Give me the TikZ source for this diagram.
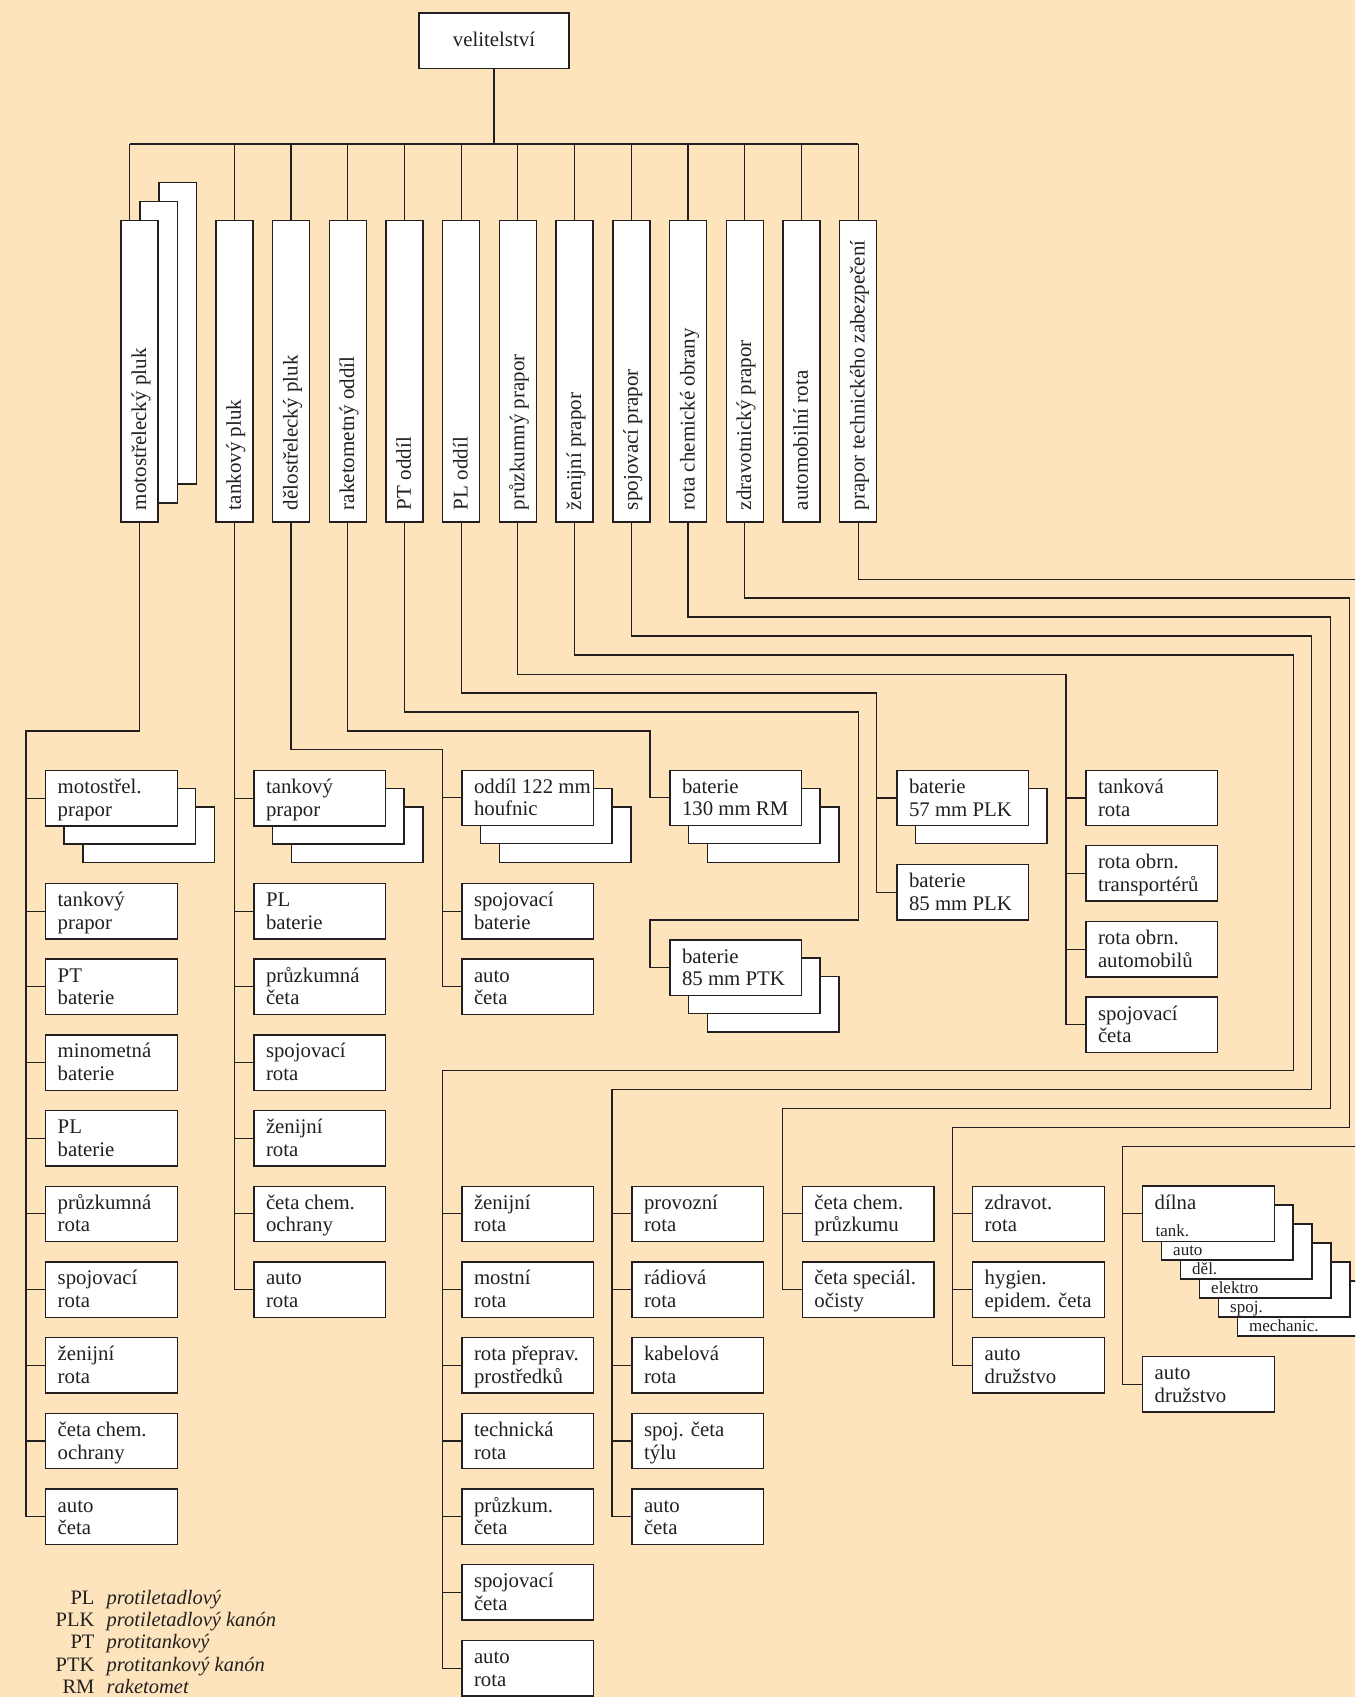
\documentclass[tikz,border=0pt]{standalone}
\usepackage{fontspec}
\setmainfont{Liberation Serif}
\definecolor{bg}{RGB}{253,228,189}
\definecolor{lc}{RGB}{35,31,32}
\newcommand{\hsz}{\fontsize{20.8}{22.7}\selectfont}
\newcommand{\vsz}{\fontsize{21}{23}\selectfont}
\newcommand{\ssz}{\fontsize{17}{19}\selectfont}
\newcommand{\lsz}{\fontsize{20.5}{22.3}\selectfont}
\newcommand{\tb}[2]{\makebox[107.5pt][l]{\begin{tabular}[t]{@{}l@{}}#1\\#2\end{tabular}}}
\newcommand{\vt}[1]{\makebox[277.3pt][l]{#1}}
\tikzset{
  conn/.style={draw=lc, line width=1.1pt},
  sh/.style={draw=lc, fill=white, line width=1.4pt},
  hb/.style={sh, rectangle, anchor=north west, inner xsep=12pt, inner ysep=0pt,
    minimum width=131.5pt, minimum height=55.4pt, text height=23pt, text depth=32.4pt,
    font=\hsz, text=lc},
  vb/.style={sh, rectangle, rotate=90, inner xsep=12pt, inner ysep=0pt,
    minimum width=301.3pt, minimum height=37pt, text height=16pt, text depth=3pt,
    font=\vsz, text=lc},
  lyr/.style={sh, rectangle, anchor=north west, inner sep=0pt, minimum width=131.3pt, minimum height=55pt},
  lab/.style={inner sep=0pt, anchor=base west, font=\ssz, text=lc},
}
\begin{document}
\begin{tikzpicture}[x=1pt,y=-1pt]
\useasboundingbox (0,0) rectangle (1355,1697);
\fill[bg] (0,0) rectangle (1355,1697);
\clip (0,0) rectangle (1355,1697);

% top
\node[sh, rectangle, minimum width=150pt, minimum height=55.3pt, inner sep=0pt,
  text height=12pt, text depth=0pt, font=\hsz, text=lc] (vel) at (494,40.7) {velitelství};

% vertical boxes
\draw[sh] (159,182.7) rectangle ++(37.2,301.3);
\draw[sh] (140,201.7) rectangle ++(37.2,301.3);
\node[vb] (v1) at (139.6,371.35) {\vt{motostřelecký pluk}};
\node[vb] (v2) at (234.3,371.35) {\vt{tankový pluk}};
\node[vb] (v3) at (291.0,371.35) {\vt{dělostřelecký pluk}};
\node[vb] (v4) at (347.7,371.35) {\vt{raketometný oddíl}};
\node[vb] (v5) at (404.4,371.35) {\vt{PT oddíl}};
\node[vb] (v6) at (461.1,371.35) {\vt{PL oddíl}};
\node[vb] (v7) at (517.9,371.35) {\vt{průzkumný prapor}};
\node[vb] (v8) at (574.6,371.35) {\vt{ženijní prapor}};
\node[vb] (v9) at (631.3,371.35) {\vt{spojovací prapor}};
\node[vb] (v10) at (688.0,371.35) {\vt{rota chemické obrany}};
\node[vb] (v11) at (744.7,371.35) {\vt{zdravotnický prapor}};
\node[vb] (v12) at (801.4,371.35) {\vt{automobilní rota}};
\node[vb] (v13) at (858.1,371.35) {\vt{prapor technického zabezpečení}};

% column A
\draw[sh] (83,807.1) rectangle ++(131.5,55.4);
\draw[sh] (64,788.4) rectangle ++(131.5,55.4);
\node[hb] (a1) at (45,769.7) {\tb{motostřel.}{prapor}};
\node[hb] (a2) at (45,882.7) {\tb{tankový}{prapor}};
\node[hb] (a3) at (45,958.4) {\tb{PT}{baterie}};
\node[hb] (a4) at (45,1034.1) {\tb{minometná}{baterie}};
\node[hb] (a5) at (45,1109.8) {\tb{PL}{baterie}};
\node[hb] (a6) at (45,1185.5) {\tb{průzkumná}{rota}};
\node[hb] (a7) at (45,1261.2) {\tb{spojovací}{rota}};
\node[hb] (a8) at (45,1336.9) {\tb{ženijní}{rota}};
\node[hb] (a9) at (45,1412.6) {\tb{četa chem.}{ochrany}};
\node[hb] (a10) at (45,1488.3) {\tb{auto}{četa}};

% column B
\draw[sh] (291.3,807.1) rectangle ++(131.5,55.4);
\draw[sh] (272.3,788.4) rectangle ++(131.5,55.4);
\node[hb] (b1) at (253.3,769.7) {\tb{tankový}{prapor}};
\node[hb] (b2) at (253.3,882.7) {\tb{PL}{baterie}};
\node[hb] (b3) at (253.3,958.4) {\tb{průzkumná}{četa}};
\node[hb] (b4) at (253.3,1034.1) {\tb{spojovací}{rota}};
\node[hb] (b5) at (253.3,1109.8) {\tb{ženijní}{rota}};
\node[hb] (b6) at (253.3,1185.5) {\tb{četa chem.}{ochrany}};
\node[hb] (b7) at (253.3,1261.2) {\tb{auto}{rota}};

% column C
\draw[sh] (499.3,806.9) rectangle ++(131.5,55.4);
\draw[sh] (480.3,788.2) rectangle ++(131.5,55.4);
\node[hb] (c1) at (461.3,769.5) {\tb{oddíl 122 mm}{houfnic}};
\node[hb] (c2) at (461.3,882.7) {\tb{spojovací}{baterie}};
\node[hb] (c3) at (461.3,958.4) {\tb{auto}{četa}};

% column D
\draw[sh] (707.3,806.9) rectangle ++(131.5,55.4);
\draw[sh] (688.3,788.2) rectangle ++(131.5,55.4);
\node[hb] (d1) at (669.3,769.5) {\tb{baterie}{130 mm RM}};
\draw[sh] (707.3,976.7) rectangle ++(131.5,55.4);
\draw[sh] (688.3,958.0) rectangle ++(131.5,55.4);
\node[hb] (d2) at (669.3,939.3) {\tb{baterie}{85 mm PTK}};

% column E
\draw[sh] (915.3,788.3) rectangle ++(131.5,55.4);
\node[hb] (e1) at (896.3,769.6) {\tb{baterie}{57 mm PLK}};
\node[hb] (e2) at (896.3,864.0) {\tb{baterie}{85 mm PLK}};

% column F
\node[hb] (f1) at (1085.3,769.6) {\tb{tanková}{rota}};
\node[hb] (f2) at (1085.3,845.0) {\tb{rota obrn.}{transportérů}};
\node[hb] (f3) at (1085.3,920.7) {\tb{rota obrn.}{automobilů}};
\node[hb] (f4) at (1085.3,996.4) {\tb{spojovací}{četa}};

% column G
\node[hb] (g1) at (461.3,1185.5) {\tb{ženijní}{rota}};
\node[hb] (g2) at (461.3,1261.2) {\tb{mostní}{rota}};
\node[hb] (g3) at (461.3,1336.9) {\tb{rota přeprav.}{prostředků}};
\node[hb] (g4) at (461.3,1412.6) {\tb{technická}{rota}};
\node[hb] (g5) at (461.3,1488.3) {\tb{průzkum.}{četa}};
\node[hb] (g6) at (461.3,1564.0) {\tb{spojovací}{četa}};
\node[hb] (g7) at (461.3,1639.7) {\tb{auto}{rota}};

% column H
\node[hb] (h1) at (631.3,1185.5) {\tb{provozní}{rota}};
\node[hb] (h2) at (631.3,1261.2) {\tb{rádiová}{rota}};
\node[hb] (h3) at (631.3,1336.9) {\tb{kabelová}{rota}};
\node[hb] (h4) at (631.3,1412.6) {\tb{spoj. četa}{týlu}};
\node[hb] (h5) at (631.3,1488.3) {\tb{auto}{četa}};

% column I
\node[hb] (i1) at (801.7,1185.5) {\tb{četa chem.}{průzkumu}};
\node[hb] (i2) at (801.7,1261.2) {\tb{četa speciál.}{očisty}};

% column K
\node[hb] (k1) at (972,1185.5) {\tb{zdravot.}{rota}};
\node[hb] (k2) at (972,1261.2) {\tb{hygien.}{epidem. četa}};
\node[hb] (k3) at (972,1336.9) {\tb{auto}{družstvo}};

% column L (workshop stack)
\node[lyr] (dl6) at (1237,1280.3) {};
\node[lab] (dl6t) at (1249,1331) {mechanic.};
\node[lyr] (dl5) at (1218,1261.3) {};
\node[lab] (dl5t) at (1230,1312) {spoj.};
\node[lyr] (dl4) at (1199,1242.3) {};
\node[lab] (dl4t) at (1211,1293) {elektro};
\node[lyr] (dl3) at (1180,1223.3) {};
\node[lab] (dl3t) at (1192,1274) {děl.};
\node[lyr] (dl2) at (1161,1204.3) {};
\node[lab] (dl2t) at (1173,1255) {auto};
\node[hb] (l1) at (1142,1185.3) {\tb{dílna}{}};
\node[lab] (l1t) at (1155.5,1236) {tank.};
\node[hb] (l2) at (1142,1355.7) {\tb{auto}{družstvo}};

% legend
\node[anchor=base west, inner sep=0pt, font=\lsz, text=lc] (leg) at (55.5,1604.3)
 {\begin{tabular}[t]{@{}r@{\hspace{12.3pt}}l@{}}
  PL & \textit{protiletadlový}\\
  PLK & \textit{protiletadlový kanón}\\
  PT & \textit{protitankový}\\
  PTK & \textit{protitankový kanón}\\
  RM & \textit{raketomet}
 \end{tabular}};

% ---------- connectors ----------
\coordinate (busL) at (129.8,144);
\coordinate (busR) at (858.1,144);
\draw[conn] (busL) -- (busR);
\draw[conn] (vel.south) -- (vel.south |- busL);
\draw[conn] (busL) -- (busL |- v1.east);
\foreach \v in {v2,v3,v4,v5,v6,v7,v8,v9,v10,v11,v12,v13}
  \draw[conn] (\v.east) -- (\v.east |- busL);

% moto
\coordinate (jA) at (26,731);
\draw[conn] (v1.west) |- (jA) -- (jA |- a10.west) -- (a10.west);
\foreach \n in {a1,a2,a3,a4,a5,a6,a7,a8,a9}
  \draw[conn] (jA |- \n.west) -- (\n.west);

% tank
\draw[conn] (v2.west) -- (v2.west |- b7.west) -- (b7.west);
\foreach \n in {b1,b2,b3,b4,b5,b6}
  \draw[conn] (v2.west |- \n.west) -- (\n.west);

% artillery
\coordinate (jC) at (442.3,749.5);
\draw[conn] (v3.west) |- (jC) -- (jC |- c3.west) -- (c3.west);
\foreach \n in {c1,c2}
  \draw[conn] (jC |- \n.west) -- (\n.west);

% rocket
\coordinate (jD) at (650,731);
\draw[conn] (v4.west) |- (jD) -- (jD |- d1.west) -- (d1.west);

% PT
\coordinate (jE1) at (858.3,712);
\coordinate (jE2) at (650,920);
\draw[conn] (v5.west) |- (jE1) |- (jE2) -- (jE2 |- d2.west) -- (d2.west);

% PL
\coordinate (jF) at (876.7,693);
\draw[conn] (v6.west) |- (jF) -- (jF |- e2.west) -- (e2.west);
\draw[conn] (jF |- e1.west) -- (e1.west);

% recon
\coordinate (jG) at (1066,674.3);
\draw[conn] (v7.west) |- (jG) -- (jG |- f4.west) -- (f4.west);
\foreach \n in {f1,f2,f3}
  \draw[conn] (jG |- \n.west) -- (\n.west);

% engineers
\coordinate (jH1) at (1293.3,655);
\coordinate (jH2) at (442.3,1070.6);
\draw[conn] (v8.west) |- (jH1) |- (jH2) -- (jH2 |- g7.west) -- (g7.west);
\foreach \n in {g1,g2,g3,g4,g5,g6}
  \draw[conn] (jH2 |- \n.west) -- (\n.west);

% signals
\coordinate (jI1) at (1311.7,636);
\coordinate (jI2) at (612,1089.6);
\draw[conn] (v9.west) |- (jI1) |- (jI2) -- (jI2 |- h5.west) -- (h5.west);
\foreach \n in {h1,h2,h3,h4}
  \draw[conn] (jI2 |- \n.west) -- (\n.west);

% chemical
\coordinate (jK1) at (1330.7,617);
\coordinate (jK2) at (782.3,1108.4);
\draw[conn] (v10.west) |- (jK1) |- (jK2) -- (jK2 |- i2.west) -- (i2.west);
\draw[conn] (jK2 |- i1.west) -- (i1.west);

% medical
\coordinate (jL1) at (1349.7,598);
\coordinate (jL2) at (952.4,1127.4);
\draw[conn] (v11.west) |- (jL1) |- (jL2) -- (jL2 |- k3.west) -- (k3.west);
\foreach \n in {k1,k2}
  \draw[conn] (jL2 |- \n.west) -- (\n.west);

% technical support
\coordinate (jM1) at (1362,579.3);
\coordinate (jM2) at (1362,1146.7);
\coordinate (jM3) at (1122.3,1146.7);
\draw[conn] (v13.west) |- (jM1);
\draw[conn] (jM2) -- (jM3) -- (jM3 |- l2.west) -- (l2.west);
\draw[conn] (jM3 |- l1.west) -- (l1.west);
\end{tikzpicture}
\end{document}
